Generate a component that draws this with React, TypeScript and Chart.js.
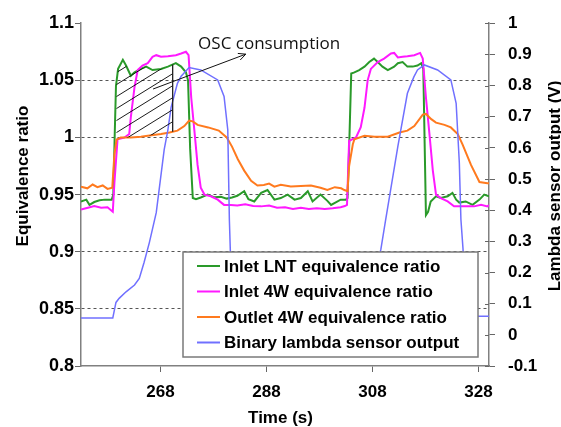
import React, { useEffect, useRef } from "react";
import { Chart, registerables } from "chart.js";

Chart.register(...registerables);

// ---------- data ----------
const timeTicks = [268, 288, 308, 328];
const leftTicks = [0.8, 0.85, 0.9, 0.95, 1, 1.05, 1.1];
const rightTicks = [-0.1, 0, 0.1, 0.2, 0.3, 0.4, 0.5, 0.6, 0.7, 0.8, 0.9, 1];

const seriesLabels = [
  "Inlet LNT equivalence ratio",
  "Inlet 4W equivalence ratio",
  "Outlet 4W equivalence ratio",
  "Binary lambda sensor output",
];

const lntTime = [253, 254, 254.6, 255.5, 256.5, 257.5, 258.8, 259.1, 259.35, 259.6, 260.0, 260.9, 261.5, 262.4, 263.1, 264.3, 265.3, 266.5, 268.1, 269.4, 270.9, 271.9, 272.8, 273.2, 273.6, 274.1, 274.7, 275.6, 276.9, 278.2, 279.4, 280.5, 281.5, 282.5, 283.8, 284.6, 285.7, 287, 288.2, 289.5, 290.7, 292, 293.3, 294.5, 295.8, 296.7, 298.2, 299.5, 300.2, 301, 302, 303, 303.3, 303.6, 304, 304.6, 305.5, 306.5, 307.4, 308.3, 309, 309.9, 310.9, 312.1, 312.8, 313.7, 314.6, 315.6, 316.5, 317.2, 317.6, 318.1, 318.5, 319, 320, 320.9, 322.2, 323.1, 323.8, 324.4, 325.6, 326.9, 328.2, 329.1, 330];
const lntPhi = [0.944, 0.9456, 0.941, 0.9435, 0.945, 0.9456, 0.9456, 0.95, 1.0, 1.045, 1.06, 1.068, 1.063, 1.054, 1.057, 1.06, 1.062, 1.059, 1.06, 1.062, 1.065, 1.062, 1.057, 1.05, 0.99, 0.947, 0.946, 0.9475, 0.95, 0.9476, 0.948, 0.9465, 0.9475, 0.949, 0.953, 0.946, 0.944, 0.9515, 0.954, 0.9456, 0.947, 0.95, 0.9456, 0.947, 0.953, 0.944, 0.95, 0.9445, 0.941, 0.943, 0.9456, 0.9456, 0.947, 0.99, 1.056, 1.057, 1.059, 1.062, 1.066, 1.069, 1.066, 1.062, 1.059, 1.062, 1.065, 1.066, 1.062, 1.062, 1.063, 1.065, 1.06, 0.932, 0.935, 0.944, 0.9485, 0.947, 0.9485, 0.9515, 0.9456, 0.943, 0.944, 0.941, 0.9456, 0.95, 0.9485];

const in4wTime = [253, 254.3, 255.5, 256.8, 258, 259, 259.3, 259.9, 261.2, 262.1, 262.4, 263.1, 263.7, 264.6, 265.6, 266.5, 267.2, 268.1, 269.4, 270.9, 271.9, 272.8, 273.3, 273.8, 274.4, 275, 275.6, 276.3, 277.5, 278.8, 280, 281.3, 282.5, 284, 285.5, 287, 288.5, 290, 291.5, 293, 294.5, 296, 297.5, 299, 300.5, 302, 302.8, 303.2, 303.6, 304.9, 305.8, 306.5, 307.1, 307.7, 309, 310.2, 311.5, 312.1, 312.8, 313.7, 314.6, 315.9, 317, 317.5, 318.1, 318.7, 319.4, 320, 320.9, 322.2, 323.4, 325.3, 327.2, 328.5, 329.7, 330];
const in4wPhi = [0.937, 0.9385, 0.94, 0.9385, 0.939, 0.935, 0.96, 0.9985, 1.0, 1.003, 1.0176, 1.044, 1.059, 1.063, 1.065, 1.0706, 1.072, 1.0706, 1.071, 1.072, 1.0735, 1.075, 1.072, 1.035, 1.006, 0.976, 0.956, 0.95, 0.9485, 0.9456, 0.941, 0.941, 0.9405, 0.9415, 0.94, 0.9397, 0.9405, 0.9385, 0.939, 0.9375, 0.9385, 0.9375, 0.938, 0.9375, 0.938, 0.939, 0.94, 0.941, 0.997, 1.0, 1.009, 1.026, 1.05, 1.06, 1.066, 1.069, 1.0735, 1.074, 1.07, 1.0706, 1.071, 1.072, 1.074, 1.069, 1.035, 1.006, 0.971, 0.95, 0.947, 0.944, 0.9397, 0.9397, 0.9397, 0.941, 0.9397, 0.941];

const out4wTime = [253, 254.2, 255.2, 256.1, 257.1, 258, 258.9, 259.3, 259.7, 260.5, 262.4, 264.3, 265.6, 268.1, 269.7, 271.2, 272.5, 273.4, 274.1, 275, 277, 279, 280.5, 281.5, 282.6, 283.8, 285.1, 286.3, 287.5, 288.5, 289.5, 290.7, 292.6, 294.5, 296.4, 298.2, 299.5, 300.9, 302.1, 302.7, 303.3, 303.6, 304.3, 304.6, 306.5, 308.4, 310.9, 313.1, 314.6, 315.9, 317.5, 318.1, 319.1, 320, 321.6, 322.8, 324.1, 325, 326.6, 328.2, 329.7, 330];
const out4wPhi = [0.957, 0.9555, 0.9588, 0.9565, 0.958, 0.955, 0.956, 0.985, 0.998, 1.0, 1.0, 1.0006, 1.0015, 1.003, 1.0044, 1.006, 1.01, 1.0147, 1.0141, 1.011, 1.0088, 1.006, 1.0, 0.992, 0.981, 0.971, 0.962, 0.958, 0.9585, 0.9597, 0.957, 0.9585, 0.957, 0.9575, 0.958, 0.956, 0.954, 0.9565, 0.9555, 0.954, 0.953, 0.975, 0.994, 0.9985, 1.0015, 1.0006, 1.0006, 1.0044, 1.006, 1.01, 1.02, 1.0206, 1.016, 1.013, 1.011, 1.0088, 1.003, 0.994, 0.976, 0.961, 0.96, 0.96];

const lambdaTime = [253, 259.0, 259.6, 260.2, 261.5, 263.1, 264.0, 264.9, 265.9, 267.2, 268.7, 269.4, 270.0, 271.2, 271.9, 273.4, 275.6, 278.8, 280.0, 280.7, 281.0, 281.4, 281.6, 303.5, 304.1, 305.5, 307.3, 308.3, 309.0, 309.6, 310.5, 312.8, 314.6, 315.8, 316.5, 317.8, 320.3, 322.8, 323.8, 324.4, 324.7, 325.1, 325.4, 325.6, 330];
const lambdaVolt = [0.054, 0.054, 0.104, 0.117, 0.138, 0.16, 0.181, 0.232, 0.296, 0.392, 0.594, 0.658, 0.73, 0.807, 0.83, 0.858, 0.85, 0.818, 0.765, 0.658, 0.37, 0.15, 0.055, 0.055, 0.104, 0.135, 0.16, 0.185, 0.23, 0.275, 0.37, 0.605, 0.775, 0.827, 0.85, 0.866, 0.85, 0.818, 0.743, 0.552, 0.37, 0.275, 0.1, 0.06, 0.06];

// annotation (data coordinates)
const oscLabel = "OSC consumption";
const oscWindow = [259.7, 270.3];
const oscTextAt = [275.1, 1.0817];
const arrowFrom = [266.6, 1.0424];
const arrowTo = [284.1, 1.0729];

// ---------- styles ----------
const GREEN = "#2a9a2a";
const MAGENTA = "#ff19ff";
const ORANGE = "#ff7a1e";
const BLUE = "#7070ff";
const colors = [GREEN, MAGENTA, ORANGE, BLUE];
const FONT = '"Liberation Sans", Arial, sans-serif';

function interp(ts: number[], vs: number[], t: number) {
  for (let i = 0; i < ts.length - 1; i++) {
    if (t >= ts[i] && t <= ts[i + 1]) {
      const f = (t - ts[i]) / (ts[i + 1] - ts[i]);
      return vs[i] + f * (vs[i + 1] - vs[i]);
    }
  }
  return vs[vs.length - 1];
}

const overlay = {
  id: "overlay",
  afterDatasetsDraw(chart: any) {
    const { ctx, scales, chartArea } = chart;
    const xs = scales.x;
    const ys = scales.y;
    const X = (t: number) => xs.getPixelForValue(t);
    const Y = (v: number) => ys.getPixelForValue(v);

    // inner half of right-axis tick marks
    ctx.save();
    ctx.strokeStyle = "#666";
    ctx.lineWidth = 1;
    rightTicks.forEach((v) => {
      const py = Math.round(scales.y1.getPixelForValue(v)) + 0.5;
      ctx.beginPath();
      ctx.moveTo(chartArea.right - 4, py);
      ctx.lineTo(chartArea.right, py);
      ctx.stroke();
    });
    ctx.restore();

    // hatched OSC area
    const [t0, t1] = oscWindow;
    const top: number[][] = [[t0, interp(lntTime, lntPhi, t0)]];
    lntTime.forEach((t, i) => { if (t > t0 && t < t1) top.push([t, lntPhi[i]]); });
    top.push([t1, interp(lntTime, lntPhi, t1)]);
    const bot: number[][] = [[t1, interp(out4wTime, out4wPhi, t1)]];
    for (let i = out4wTime.length - 1; i >= 0; i--) {
      const t = out4wTime[i];
      if (t > t0 && t < t1) bot.push([t, out4wPhi[i]]);
    }
    bot.push([t0, interp(out4wTime, out4wPhi, t0)]);
    const poly = top.concat(bot).map(([t, v]) => [X(t), Y(v)]);
    ctx.save();
    ctx.beginPath();
    poly.forEach(([px, py], i) => (i ? ctx.lineTo(px, py) : ctx.moveTo(px, py)));
    ctx.closePath();
    ctx.clip();
    const minX = Math.min(...poly.map((p) => p[0]));
    const maxX = Math.max(...poly.map((p) => p[0]));
    const minY = Math.min(...poly.map((p) => p[1]));
    const maxY = Math.max(...poly.map((p) => p[1]));
    ctx.strokeStyle = "#000";
    ctx.lineWidth = 0.9;
    const slope = 0.62;
    const w = maxX - minX;
    for (let y = minY - 10; y < maxY + w * slope + 20; y += 12) {
      ctx.beginPath();
      ctx.moveTo(minX - 2, y);
      ctx.lineTo(maxX + 2, y - (w + 4) * slope);
      ctx.stroke();
    }
    ctx.restore();
    // right edge of the hatch
    ctx.save();
    ctx.strokeStyle = "#222";
    ctx.lineWidth = 1.3;
    ctx.beginPath();
    ctx.moveTo(X(t1), Y(interp(lntTime, lntPhi, t1)));
    ctx.lineTo(X(t1), Y(interp(out4wTime, out4wPhi, t1)));
    ctx.stroke();

    // arrow
    const ax0 = X(arrowFrom[0]), ay0 = Y(arrowFrom[1]);
    const ax1 = X(arrowTo[0]), ay1 = Y(arrowTo[1]);
    ctx.strokeStyle = "#111";
    ctx.lineWidth = 1;
    ctx.beginPath();
    ctx.moveTo(ax0, ay0);
    ctx.lineTo(ax1, ay1);
    const ang = Math.atan2(ay1 - ay0, ax1 - ax0);
    const hl = 8;
    ctx.moveTo(ax1, ay1);
    ctx.lineTo(ax1 - hl * Math.cos(ang - 0.45), ay1 - hl * Math.sin(ang - 0.45));
    ctx.moveTo(ax1, ay1);
    ctx.lineTo(ax1 - hl * Math.cos(ang + 0.45), ay1 - hl * Math.sin(ang + 0.45));
    ctx.stroke();

    // annotation text
    ctx.fillStyle = "#111";
    ctx.font = '17px "Open Sans", sans-serif';
    ctx.textAlign = "left";
    ctx.textBaseline = "middle";
    ctx.fillText(oscLabel, X(oscTextAt[0]), Y(oscTextAt[1]));
    ctx.restore();

    // legend box
    ctx.save();
    const bx = 183, by = 252, bw = 295, bh = 105;
    ctx.fillStyle = "#fff";
    ctx.fillRect(bx, by, bw, bh);
    ctx.strokeStyle = "#7a7a7a";
    ctx.lineWidth = 1.5;
    ctx.strokeRect(bx, by, bw, bh);
    ctx.font = `bold 17px ${FONT}`;
    ctx.textBaseline = "middle";
    ctx.textAlign = "left";
    chart.data.datasets.forEach((ds: any, i: number) => {
      const ry = by + 14 + i * 25.5;
      ctx.strokeStyle = ds.borderColor;
      ctx.lineWidth = 2;
      ctx.beginPath();
      ctx.moveTo(197, ry);
      ctx.lineTo(220, ry);
      ctx.stroke();
      ctx.fillStyle = "#000";
      ctx.fillText(ds.label, 224, ry + 1);
    });
    ctx.restore();
  },
  afterDraw(chart: any) {
    const { ctx } = chart;
    ctx.save();
    ctx.fillStyle = "#000";
    ctx.font = `bold 17px ${FONT}`;
    ctx.textAlign = "center";
    ctx.textBaseline = "alphabetic";
    ctx.fillText("Time (s)", 280.5, 423);
    ctx.save();
    ctx.translate(27.5, 176);
    ctx.rotate(-Math.PI / 2);
    ctx.fillText("Equivalence ratio", 0, 0);
    ctx.restore();
    ctx.save();
    ctx.translate(560, 186);
    ctx.rotate(-Math.PI / 2);
    ctx.fillText("Lambda sensor output (V)", 0, 0);
    ctx.restore();
    ctx.restore();
  },
};

export default function App() {
  const ref = useRef<HTMLCanvasElement>(null);
  useEffect(() => {
    const canvas = ref.current!;
    const pts = (ts: number[], vs: number[]) => ts.map((t, i) => ({ x: t, y: vs[i] }));
    const series = [
      [lntTime, lntPhi, "y", 4, 2],
      [in4wTime, in4wPhi, "y", 3, 2],
      [out4wTime, out4wPhi, "y", 2, 2],
      [lambdaTime, lambdaVolt, "y1", 1, 1.5],
    ] as any[];
    const chart = new Chart(canvas, {
      type: "line",
      data: {
        datasets: series.map((s, i) => ({
          label: seriesLabels[i],
          data: pts(s[0], s[1]),
          borderColor: colors[i],
          backgroundColor: colors[i],
          borderWidth: s[4],
          pointRadius: 0,
          tension: 0,
          fill: false,
          yAxisID: s[2],
          order: s[3],
        })),
      },
      options: {
        responsive: false,
        animation: false,
        devicePixelRatio: 1,
        layout: { padding: { top: 22, left: 0, right: 0, bottom: 0 } },
        plugins: { legend: { display: false }, tooltip: { enabled: false } },
        scales: {
          x: {
            type: "linear",
            min: 253,
            max: 330,
            afterBuildTicks: (s: any) => { s.ticks = timeTicks.map((v) => ({ value: v })); },
            afterFit: (s: any) => { s.height = 61; },
            grid: { drawOnChartArea: false, tickLength: 6, tickColor: "#666", lineWidth: 1 },
            border: { color: "#808080", width: 1.5 },
            ticks: { font: { family: FONT, size: 17, weight: "bold" }, color: "#000", padding: 10, maxRotation: 0, autoSkip: false },
          },
          y: {
            type: "linear",
            position: "left",
            min: 0.8,
            max: 1.1,
            afterBuildTicks: (s: any) => { s.ticks = leftTicks.map((v) => ({ value: v })); },
            afterFit: (s: any) => { s.width = 81; },
            grid: {
              color: (c: any) => (c.tick && (c.tick.value <= 0.8 || c.tick.value >= 1.1) ? "rgba(0,0,0,0)" : "#555"),
              tickColor: "#666",
              tickLength: 6,
              lineWidth: 1,
            },
            border: { color: "#808080", width: 1.5, dash: [3, 3] },
            ticks: {
              font: { family: FONT, size: 18, weight: "bold" },
              color: "#000",
              padding: 1,
              autoSkip: false,
              callback: (v: any) => String(Number(Number(v).toFixed(2))),
            },
          },
          y1: {
            type: "linear",
            position: "right",
            min: -0.1,
            max: 1,
            afterBuildTicks: (s: any) => { s.ticks = rightTicks.map((v) => ({ value: v })); },
            afterFit: (s: any) => { s.width = 72; },
            grid: { drawOnChartArea: false, tickLength: 6, tickColor: "#666", lineWidth: 1 },
            border: { color: "#808080", width: 1.5 },
            ticks: {
              font: { family: FONT, size: 17, weight: "bold" },
              color: "#000",
              padding: 13,
              autoSkip: false,
              callback: (v: any) => String(Number(Number(v).toFixed(1))),
            },
          },
        },
      },
      plugins: [overlay],
    } as any);
    return () => chart.destroy();
  }, []);
  return (
    <div style={{ position: "fixed", left: 0, top: 0, width: 561, height: 427, background: "#fff" }}>
      <canvas ref={ref} width={561} height={427} style={{ width: 561, height: 427, display: "block" }} />
    </div>
  );
}
